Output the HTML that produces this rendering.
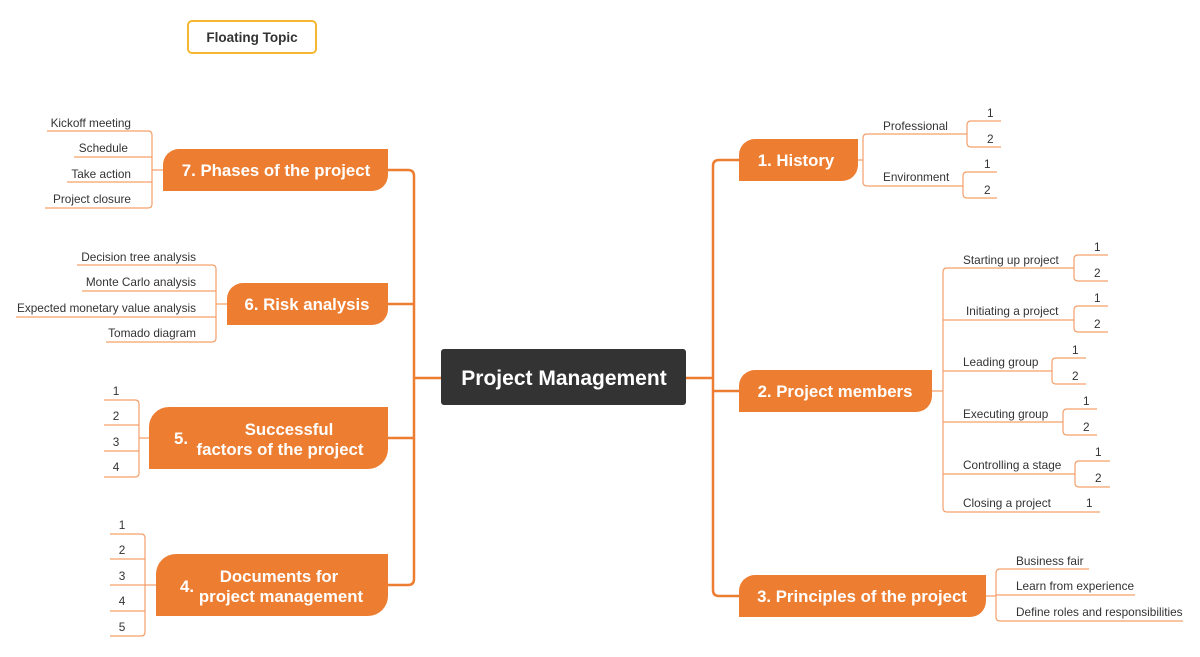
<!DOCTYPE html>
<html><head><meta charset="utf-8"><style>
html,body{margin:0;padding:0;background:#fff;}
svg{display:block;font-family:"Liberation Sans",Arial,sans-serif;}
.t{font-size:11.8px;fill:#333;}
.b{font-size:16.8px;font-weight:bold;fill:#fff;}
.tr{fill:none;stroke:#ed7d31;stroke-width:2.5;}
.c{fill:none;stroke:#f3a06b;stroke-width:1.2;}
</style></head><body>
<svg width="1200" height="657" viewBox="0 0 1200 657">
<rect x="188" y="21" width="128" height="32" rx="4" fill="#fff" stroke="#f5b731" stroke-width="2"/>
<text x="252" y="42" text-anchor="middle" style="font-size:13.5px;font-weight:bold;fill:#333">Floating Topic</text>

<path class="tr" d="M441 378 H414 M388 170 H408 Q414 170 414 176 V579 Q414 585 408 585 H388 M388 304 H414 M388 438 H414"/>
<path class="tr" d="M686 378 H713 M739 160 H719 Q713 160 713 166 V590 Q713 596 719 596 H739 M739 391 H713"/>

<rect x="441" y="349" width="245" height="56" rx="3" fill="#333"/>
<text x="564" y="385" text-anchor="middle" style="font-size:21px;font-weight:bold;fill:#fff">Project Management</text>

<g fill="#ed7d31">
<path d="M179 149 H388 V175 A16 16 0 0 1 372 191 H163 V165 A16 16 0 0 1 179 149Z"/>
<path d="M243 283 H388 V309 A16 16 0 0 1 372 325 H227 V299 A16 16 0 0 1 243 283Z"/>
<path d="M169 407 H388 V449 A20 20 0 0 1 368 469 H149 V427 A20 20 0 0 1 169 407Z"/>
<path d="M176 554 H388 V596 A20 20 0 0 1 368 616 H156 V574 A20 20 0 0 1 176 554Z"/>
<path d="M755 139 H858 V165 A16 16 0 0 1 842 181 H739 V155 A16 16 0 0 1 755 139Z"/>
<path d="M755 370 H932 V396 A16 16 0 0 1 916 412 H739 V386 A16 16 0 0 1 755 370Z"/>
<path d="M755 575 H986 V601 A16 16 0 0 1 970 617 H739 V591 A16 16 0 0 1 755 575Z"/>
</g>
<text class="b" x="276" y="176" text-anchor="middle">7. Phases of the project</text>
<text class="b" x="307" y="310" text-anchor="middle">6. Risk analysis</text>
<text class="b" x="289" y="435" text-anchor="middle">Successful</text>
<text class="b" x="280" y="455" text-anchor="middle">factors of the project</text>
<text class="b" x="181" y="444" text-anchor="middle">5.</text>
<text class="b" x="279" y="582" text-anchor="middle">Documents for</text>
<text class="b" x="281" y="602" text-anchor="middle">project management</text>
<text class="b" x="187" y="592" text-anchor="middle">4.</text>
<text class="b" x="796" y="166" text-anchor="middle">1. History</text>
<text class="b" x="835" y="397" text-anchor="middle">2. Project members</text>
<text class="b" x="862" y="602" text-anchor="middle">3. Principles of the project</text>

<path class="c" d="M163 170 H152 M47 131 H148 Q152 131 152 135 V204 Q152 208 148 208 H45 M74 157 H152 M67 182 H152"/>
<g class="t" text-anchor="end">
<text x="131" y="127">Kickoff meeting</text><text x="128" y="152">Schedule</text>
<text x="131" y="178">Take action</text><text x="131" y="203">Project closure</text>
</g>
<path class="c" d="M227 304 H216 M77 265 H212 Q216 265 216 269 V338 Q216 342 212 342 H106 M82 291 H216 M16 317 H216"/>
<g class="t" text-anchor="end">
<text x="196" y="261">Decision tree analysis</text><text x="196" y="286">Monte Carlo analysis</text>
<text x="196" y="312">Expected monetary value analysis</text><text x="196" y="337">Tomado diagram</text>
</g>
<path class="c" d="M149 438 H139 M104 400 H135 Q139 400 139 404 V473 Q139 477 135 477 H104 M104 425 H139 M104 451 H139"/>
<g class="t" text-anchor="middle">
<text x="116" y="395">1</text><text x="116" y="420">2</text><text x="116" y="446">3</text><text x="116" y="471">4</text>
</g>
<path class="c" d="M156 585 H145 M110 534 H141 Q145 534 145 538 V632 Q145 636 141 636 H110 M110 559 H145 M110 585 H145 M110 611 H145"/>
<g class="t" text-anchor="middle">
<text x="122" y="529">1</text><text x="122" y="554">2</text><text x="122" y="580">3</text><text x="122" y="605">4</text><text x="122" y="631">5</text>
</g>

<path class="c" d="M858 160 H863 M967 134 H867 Q863 134 863 138 V182 Q863 186 867 186 H963"/>
<path class="c" d="M1001 121 H971 Q967 121 967 125 V143 Q967 147 971 147 H1001 M997 172 H967 Q963 172 963 176 V194 Q963 198 967 198 H997"/>
<g class="t">
<text x="883" y="130">Professional</text><text x="883" y="181">Environment</text>
<text x="987" y="117">1</text><text x="987" y="143">2</text><text x="984" y="168">1</text><text x="984" y="194">2</text>
</g>

<path class="c" d="M932 391 H943 M1074 268 H947 Q943 268 943 272 V508 Q943 512 947 512 H1100 M1074 320 H943 M1052 371 H943 M1063 422 H943 M1075 474 H943"/>
<path class="c" d="M1108 255 H1078 Q1074 255 1074 259 V277 Q1074 281 1078 281 H1108
M1108 306 H1078 Q1074 306 1074 310 V328 Q1074 332 1078 332 H1108
M1086 358 H1056 Q1052 358 1052 362 V380 Q1052 384 1056 384 H1086
M1097 409 H1067 Q1063 409 1063 413 V431 Q1063 435 1067 435 H1097
M1110 461 H1079 Q1075 461 1075 465 V483 Q1075 487 1079 487 H1110"/>
<g class="t">
<text x="963" y="264">Starting up project</text><text x="966" y="315">Initiating a project</text>
<text x="963" y="366">Leading group</text><text x="963" y="418">Executing group</text>
<text x="963" y="469">Controlling a stage</text><text x="963" y="507">Closing a project</text>
<text x="1094" y="251">1</text><text x="1094" y="277">2</text>
<text x="1094" y="302">1</text><text x="1094" y="328">2</text>
<text x="1072" y="354">1</text><text x="1072" y="380">2</text>
<text x="1083" y="405">1</text><text x="1083" y="431">2</text>
<text x="1095" y="456">1</text><text x="1095" y="482">2</text>
<text x="1086" y="507">1</text>
</g>

<path class="c" d="M986 596 H996 M1089 569 H1000 Q996 569 996 573 V617 Q996 621 1000 621 H1183 M1135 595 H996"/>
<g class="t">
<text x="1016" y="565">Business fair</text><text x="1016" y="590">Learn from experience</text>
<text x="1016" y="616">Define roles and responsibilities</text>
</g>
</svg>
</body></html>
